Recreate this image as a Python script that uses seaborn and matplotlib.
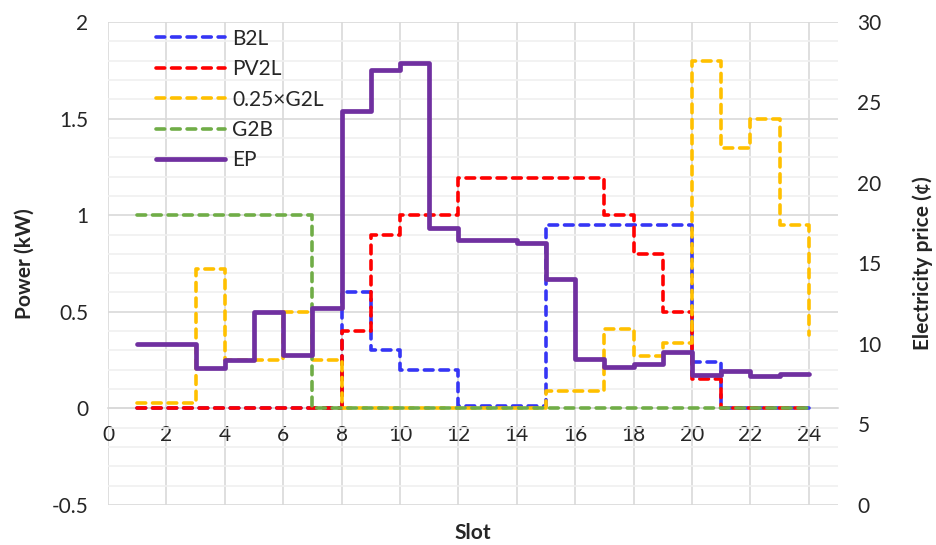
import numpy as np
import pandas as pd
import matplotlib
matplotlib.use("Agg")
import matplotlib.pyplot as plt
from matplotlib.ticker import MultipleLocator
import seaborn as sns

# ---- data ----
slots = list(range(1, 25))
b2l = [0, 0, 0, 0, 0, 0, 0, 0.60, 0.30, 0.20, 0.20, 0.01, 0.01, 0.01, 0.95, 0.95,
       0.95, 0.95, 0.95, 0.24, 0, 0, 0, 0]
pv2l = [0, 0, 0, 0, 0, 0, 0, 0.40, 0.90, 1.00, 1.00, 1.19, 1.19, 1.19, 1.19, 1.19,
        1.00, 0.80, 0.50, 0.15, 0, 0, 0, 0]
g2l_q = [0.03, 0.03, 0.72, 0.25, 0.25, 0.50, 0.25, 0, 0, 0, 0, 0, 0, 0, 0.09, 0.09,
         0.41, 0.27, 0.34, 1.80, 1.35, 1.50, 0.95, 0.38]
g2b = [1, 1, 1, 1, 1, 1, 0, 0, 0, 0, 0, 0, 0, 0, 0, 0, 0, 0, 0, 0, 0, 0, 0, 0]
ep = [10.0, 10.0, 8.5, 9.0, 12.0, 9.3, 12.25, 24.5, 27.0, 27.45, 17.2, 16.45, 16.45,
      16.25, 14.05, 9.05, 8.55, 8.75, 9.5, 8.05, 8.3, 8.0, 8.15, 8.15]

names = ["B2L", "PV2L", "0.25\u00d7G2L", "G2B"]
colors = ["#3535f5", "#ff0000", "#ffc000", "#70ad47"]
ep_color = "#7030a0"

df = pd.DataFrame({"Slot": slots, "B2L": b2l, "PV2L": pv2l,
                   "0.25\u00d7G2L": g2l_q, "G2B": g2b, "EP": ep})

sns.set_style("white")
plt.rcParams["font.family"] = ["Lato", "DejaVu Sans"]

fig = plt.figure(figsize=(9.37, 5.45), dpi=100)
ax = fig.add_axes([108 / 937, 1 - 505 / 545, (838 - 108) / 937, (505 - 22) / 545])
ax2 = ax.twinx()

handles = []
for name, c in zip(names, colors):
    sns.lineplot(data=df, x="Slot", y=name, ax=ax, color=c, linewidth=2.6,
                 drawstyle="steps-post", linestyle=(0, (2.4, 1.9)),
                 dash_capstyle="round", label=name, legend=False)
    handles.append(ax.lines[-1])

sns.lineplot(data=df, x="Slot", y="EP", ax=ax2, color=ep_color, linewidth=3.4,
             drawstyle="steps-post", label="EP", legend=False)
handles.append(ax2.lines[-1])

# axes limits / ticks
ax.set_xlim(0, 25)
ax.set_ylim(-0.5, 2)
ax2.set_ylim(0, 30)
ax.set_xticks(range(0, 25, 2))
ax.yaxis.set_minor_locator(MultipleLocator(0.1))
ax2.yaxis.set_major_locator(MultipleLocator(5))
ax.set_yticks([-0.5, 0, 0.5, 1, 1.5, 2])
ax.set_yticklabels(["-0.5", "0", "0.5", "1", "1.5", "2"])

ax.grid(which="major", color="#d9d9d9", lw=1.2)
ax.grid(which="minor", axis="y", color="#f0f0f0", lw=1.2)
ax.set_axisbelow(True)
ax2.grid(False)

for s in ["top", "right", "left"]:
    ax.spines[s].set_visible(False)
for s in ax2.spines.values():
    s.set_visible(False)
ax.spines["bottom"].set_position(("data", 0))
ax.spines["bottom"].set_color("#d9d9d9")
ax.spines["bottom"].set_linewidth(1.2)
ax.spines["bottom"].set_zorder(0.5)

ax.tick_params(axis="both", which="both", length=0, labelsize=15)
ax.tick_params(axis="x", pad=12)
ax.tick_params(axis="y", pad=14)
ax2.tick_params(axis="y", length=0, labelsize=15, pad=14)

ax.set_xlabel("Slot", fontsize=15, fontweight="bold")
ax.xaxis.set_label_coords(0.5, -0.037)
ax.set_ylabel("Power (kW)", fontsize=15, fontweight="bold", labelpad=12)
ax2.set_ylabel("Electricity price (\u00a2)", fontsize=15, fontweight="bold", labelpad=22)

ax.legend(handles=handles, labels=names + ["EP"], loc="upper left",
          bbox_to_anchor=(0.04, 1.025), frameon=False, fontsize=15,
          handlelength=3.3, handletextpad=0.35, labelspacing=0.5)
ax2.set_zorder(ax.get_zorder() + 1)
ax2.patch.set_visible(False)

fig.savefig("out.png", dpi=100)
